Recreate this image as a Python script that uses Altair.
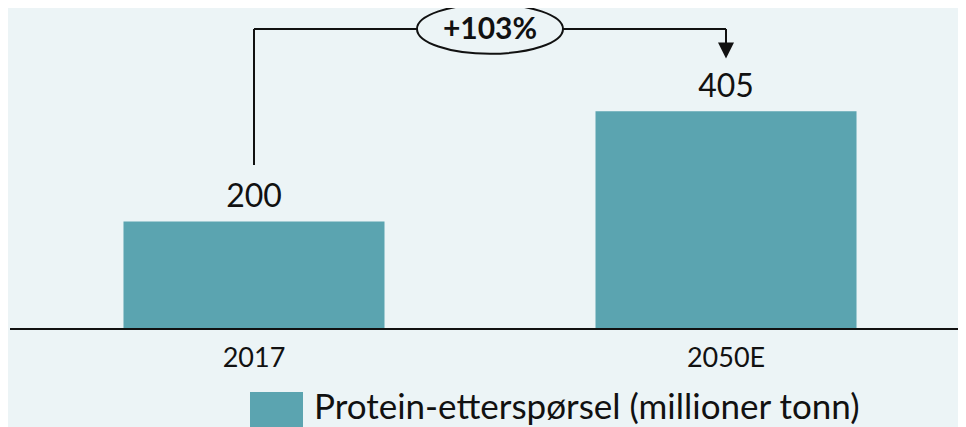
import altair as alt
import pandas as pd

# ---- data ----
years = ["2017", "2050E"]
values = [200, 405]
series_name = "Protein-etterspørsel (millioner tonn)"
growth_label = "+103%"

# annotation levels (data units)
bracket_top = 558
bracket_left_start = 305
arrow_head_level = 518

BG = "#ecf4f6"
BAR = "#5ba4b0"
FONT = "Lato"

df = pd.DataFrame({"year": years, "value": values, "series": [series_name] * len(years)})

xscale = alt.Scale(domain=years, paddingInner=0.447, paddingOuter=0.215)
yscale = alt.Scale(domain=[0, 597], nice=False, zero=True)

x_enc = alt.X("year:N", scale=xscale, sort=years,
              axis=alt.Axis(title=None, domain=False, ticks=False, tickSize=0,
                            labelAngle=0, labelFont=FONT, labelFontSize=27,
                            labelColor="#111111", labelPadding=37,
                            labelBaseline="alphabetic"))
y_enc = alt.Y("value:Q", scale=yscale, axis=None)

bars = alt.Chart(df).mark_bar().encode(
    x=x_enc,
    y=y_enc,
    color=alt.Color("series:N",
                    scale=alt.Scale(domain=[series_name], range=[BAR]),
                    legend=alt.Legend(title=None, orient="none", legendX=228, legendY=384,
                                      symbolType="square", symbolSize=2809,
                                      symbolStrokeWidth=0, symbolOpacity=1,
                                      labelFont=FONT, labelFontSize=35,
                                      labelColor="#111111", labelOffset=11,
                                      labelBaseline="alphabetic",
                                      padding=0, labelLimit=800)),
)

value_labels = alt.Chart(df).mark_text(
    dy=-14, baseline="alphabetic", font=FONT, fontSize=32, color="#111111"
).encode(x=alt.X("year:N", sort=years), y=alt.Y("value:Q"), text=alt.Text("value:Q"))

axis_line = alt.Chart(pd.DataFrame({"v": [0]})).mark_rule(
    color="#111111", strokeWidth=2
).encode(y=alt.Y("v:Q"), x=alt.value(-12), x2=alt.value(936))

left_df = pd.DataFrame({"year": [years[0]], "y1": [bracket_left_start], "y2": [bracket_top]})
left_line = alt.Chart(left_df).mark_rule(color="#111111", strokeWidth=2).encode(
    x=alt.X("year:N", sort=years), y=alt.Y("y1:Q"), y2="y2:Q")

top_df = pd.DataFrame({"year": years, "y": [bracket_top, bracket_top]})
top_line = alt.Chart(top_df).mark_line(color="#111111", strokeWidth=2).encode(
    x=alt.X("year:N", sort=years), y=alt.Y("y:Q"))

arrow_df = pd.DataFrame({"year": [years[1]], "y1": [arrow_head_level + 3], "y2": [bracket_top]})
arrow_line = alt.Chart(arrow_df).mark_rule(color="#111111", strokeWidth=2).encode(
    x=alt.X("year:N", sort=years), y=alt.Y("y1:Q"), y2="y2:Q")

head_df = pd.DataFrame({"year": [years[1]], "y": [arrow_head_level]})
arrow_head = alt.Chart(head_df).mark_point(
    shape="M-1,-1L1,-1L0,1Z", filled=True, color="#111111", opacity=1, size=256
).encode(x=alt.X("year:N", sort=years), y=alt.Y("y:Q"))

ell_df = pd.DataFrame({"year": [years[0]], "y": [bracket_top], "label": [growth_label]})
ellipse = alt.Chart(ell_df).mark_point(
    shape="M-1,0A1,0.34,0,1,1,1,0A1,0.34,0,1,1,-1,0Z",
    filled=True, fill=BG, stroke="#111111", strokeWidth=2, opacity=1,
    size=146 * 146, xOffset=236
).encode(x=alt.X("year:N", sort=years), y=alt.Y("y:Q"))

growth_text = alt.Chart(ell_df).mark_text(
    font=FONT, fontSize=30, fontWeight="bold", color="#111111",
    baseline="middle", align="center", xOffset=236, dy=1
).encode(x=alt.X("year:N", sort=years), y=alt.Y("y:Q"), text="label:N")

chart = alt.layer(
    bars, value_labels, axis_line, left_line, top_line, arrow_line, arrow_head,
    ellipse, growth_text
).properties(
    width=936, height=321,
    padding={"left": 14, "top": 0, "right": 0, "bottom": 98},
    autosize=alt.AutoSizeParams(type="none"),
    background=BG,
).configure_view(stroke=None)

chart.save("out.html", embed_options={"renderer": "svg", "actions": False})
